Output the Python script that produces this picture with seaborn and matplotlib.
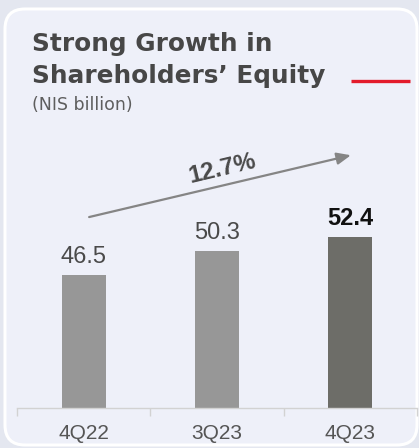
import matplotlib
matplotlib.use("Agg")
import matplotlib.pyplot as plt
import seaborn as sns
import pandas as pd
from matplotlib.patches import FancyBboxPatch

categories = ["4Q22", "3Q23", "4Q23"]
values = [46.5, 50.3, 52.4]
value_labels = ["46.5", "50.3", "52.4"]
growth_label = "12.7%"
title_lines = ["Strong Growth in", "Shareholders\u2019 Equity"]
subtitle = "(NIS billion)"

bar_colors = ["#979797", "#979797", "#6d6d68"]

sns.set_theme(style="white")
plt.rcParams['font.family'] = ['DejaVu Sans']

W, H = 419, 448
fig = plt.figure(figsize=(W / 100, H / 100), dpi=100)
fig.patch.set_facecolor("#e4e7f0")

# background / card layer in pixel coordinates
bg = fig.add_axes([0, 0, 1, 1], zorder=0)
bg.set_xlim(0, W)
bg.set_ylim(H, 0)
bg.axis("off")
card = FancyBboxPatch((5, 9), 412, 436, boxstyle="round,pad=0,rounding_size=20",
                      facecolor="#eef0f9", edgecolor="white", linewidth=2.2)
bg.add_patch(card)
bg.text(32, 51, title_lines[0], fontsize=17.8, fontweight="bold", color="#474747",
        va="baseline", ha="left")
bg.text(32, 83, title_lines[1], fontsize=17.8, fontweight="bold", color="#474747",
        va="baseline", ha="left")
bg.text(32, 110, subtitle, fontsize=12.5, color="#5e5e5e", va="baseline", ha="left")
bg.plot([351, 410], [81, 81], color="#e31b2b", linewidth=2.4, solid_capstyle="butt")

# chart axes
ax = fig.add_axes([17 / W, 40 / H, 400 / W, 278 / H], zorder=1)
ax.patch.set_alpha(0)
df = pd.DataFrame({"period": categories, "value": values})
sns.barplot(data=df, x="period", y="value", hue="period", palette=bar_colors,
            width=0.33, legend=False, ax=ax, saturation=1, linewidth=0)

y0 = 25.85
ax.set_ylim(y0, y0 + 278 / 6.44)
ax.set_xlim(-0.5, 2.5)

for s in ["top", "right", "left"]:
    ax.spines[s].set_visible(False)
ax.spines["bottom"].set_color("#d2d2d2")
ax.spines["bottom"].set_linewidth(1.0)
ax.set_yticks([])
ax.set_xlabel("")
ax.set_ylabel("")
ax.set_xticks(range(len(categories)))
ax.set_xticklabels(categories, fontsize=15, color="#555555", family="Liberation Sans")
ax.tick_params(axis="x", which="major", length=0, pad=11.5)
ax.set_xticks([-0.5, 0.5, 1.5, 2.5], minor=True)
ax.tick_params(axis="x", which="minor", bottom=True, length=5.5, width=1.0,
               color="#d2d2d2", direction="out")

for i, (v, lab) in enumerate(zip(values, value_labels)):
    last = i == len(values) - 1
    ax.annotate(lab, (i, v), xytext=(0, 8.6), textcoords="offset points",
                ha="center", va="baseline", fontsize=17,
                family="Liberation Sans",
                fontweight="bold" if last else "normal",
                color="#111111" if last else "#4a4a4a")

# growth arrow
ax.annotate("", xy=(2.004, 65.1), xytext=(0.041, 55.5),
            arrowprops=dict(arrowstyle="-|>,head_length=0.7,head_width=0.3",
                            color="#858585", lw=1.6, shrinkA=0, shrinkB=0))
ax.text(1.041, 62.96, growth_label, rotation=13.4, rotation_mode="anchor",
        ha="center", va="center", fontsize=17.5, fontweight="bold",
        family="Liberation Sans", color="#4a4a4a")

fig.savefig("out.png", dpi=100, facecolor=fig.get_facecolor())
